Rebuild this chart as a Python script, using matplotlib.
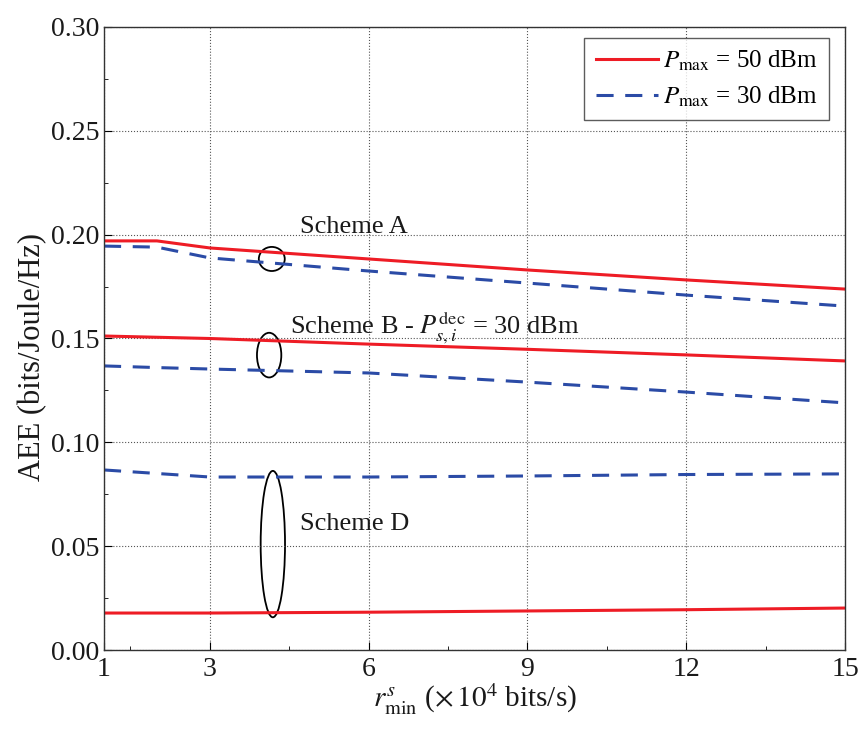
import numpy as np
import matplotlib
matplotlib.use("Agg")
import matplotlib.pyplot as plt
from matplotlib.patches import Ellipse
from matplotlib.ticker import MultipleLocator, FixedLocator

plt.rcParams['font.family'] = ['Liberation Serif', 'DejaVu Serif']
plt.rcParams['mathtext.fontset'] = 'stix'

r_min = [1, 2, 3, 6, 9, 12, 15]

# Scheme A
a_50 = [0.197, 0.197, 0.1936, 0.1883, 0.1830, 0.1782, 0.1738]
a_30 = [0.1945, 0.1940, 0.1888, 0.1825, 0.1767, 0.1709, 0.1656]
# Scheme B
b_50 = [0.1512, 0.1506, 0.1500, 0.1473, 0.1448, 0.1421, 0.1392]
b_30 = [0.1368, 0.1360, 0.1353, 0.1334, 0.1290, 0.1242, 0.1190]
# Scheme D
d_50 = [0.0178, 0.0178, 0.0178, 0.0182, 0.0188, 0.0194, 0.0202]
d_30 = [0.0867, 0.0850, 0.0833, 0.0833, 0.0838, 0.0845, 0.0848]

red = "#ee1c25"
blue = "#2b4ba6"
dash = (0, (5.6, 3.8))

fig = plt.figure(figsize=(8.61, 7.30), dpi=100)
ax = fig.add_axes([104/861, 80/730, 741/861, 623/730])

ax.plot(r_min, a_50, color=red, lw=2.2, label=r"$P_{\mathrm{max}}$ = 50 dBm")
ax.plot(r_min, a_30, color=blue, lw=2.2, ls=dash, label=r"$P_{\mathrm{max}}$ = 30 dBm")
ax.plot(r_min, b_50, color=red, lw=2.2)
ax.plot(r_min, b_30, color=blue, lw=2.2, ls=dash)
ax.plot(r_min, d_50, color=red, lw=2.2)
ax.plot(r_min, d_30, color=blue, lw=2.2, ls=dash)

# ellipses marking each scheme
for cx, cy, w, h in [(4.17, 0.1883, 0.49, 0.0116),
                     (4.12, 0.1420, 0.46, 0.0215),
                     (4.19, 0.0510, 0.46, 0.0705)]:
    ax.add_patch(Ellipse((cx, cy), w, h, fill=False, ec="black", lw=1.3))

ax.text(4.7, 0.2035, "Scheme A", fontsize=19, va="center", color="#1a1a1a")
ax.text(4.51, 0.1553, r"Scheme B - $P_{s,i}^{\mathrm{dec}}$ = 30 dBm", fontsize=19,
        va="center", color="#1a1a1a")
ax.text(4.7, 0.0608, "Scheme D", fontsize=19, va="center", color="#1a1a1a")

ax.set_xlim(1, 15)
ax.set_ylim(0, 0.30)
ax.set_xticks([1, 3, 6, 9, 12, 15])
ax.xaxis.set_minor_locator(FixedLocator([1.5, 4.5, 7.5, 10.5, 13.5]))
ax.yaxis.set_major_locator(MultipleLocator(0.05))
ax.yaxis.set_minor_locator(MultipleLocator(0.025))
ax.yaxis.set_major_formatter(matplotlib.ticker.FormatStrFormatter("%.2f"))
ax.tick_params(which="both", direction="in", labelsize=20, top=False, right=False,
               labelcolor="#1a1a1a")
ax.tick_params(which="major", length=6)
ax.tick_params(which="minor", length=3)
ax.tick_params(axis="x", pad=5)
ax.grid(True, which="major", ls=":", color="#555555", lw=0.8)
for s in ax.spines.values():
    s.set_color("#333333")
    s.set_linewidth(1)

ax.set_ylabel("AEE (bits/Joule/Hz)", fontsize=22, labelpad=2, color="#1a1a1a")
ax.yaxis.set_label_coords(-0.076, 0.47)
ax.set_xlabel(r"$r_{\mathrm{min}}^{s}$ ($\times\,10^4$ bits/s)", fontsize=21,
              labelpad=0, color="#1a1a1a")

leg = ax.legend(loc="upper right", fontsize=18, frameon=True, fancybox=False,
                edgecolor="#333333", handlelength=2.5, handletextpad=0.2,
                borderpad=0.45, labelspacing=0.45, borderaxespad=0.0,
                bbox_to_anchor=(0.9785, 0.983))
leg.get_frame().set_linewidth(1)

fig.savefig("out.png", dpi=100)
